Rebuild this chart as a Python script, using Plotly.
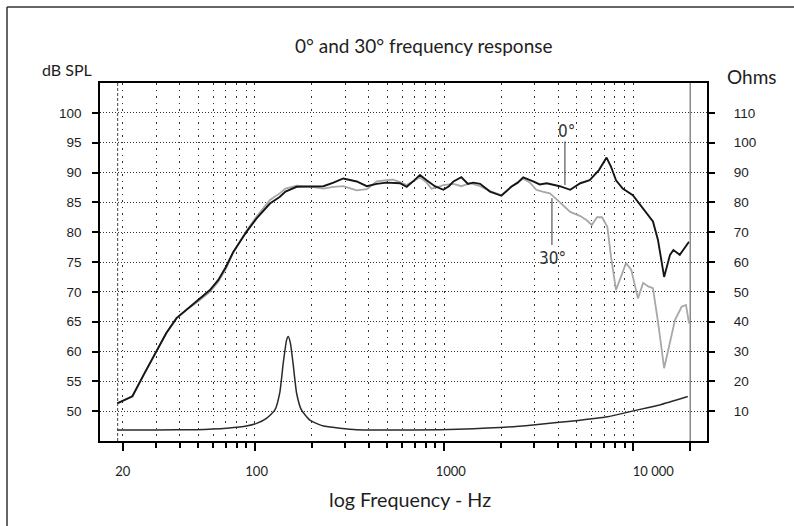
import math
import plotly.graph_objects as go

# ---------------- data ----------------
freq_0deg = [18.7, 22.5, 26, 30.2, 34, 38.5, 43.5, 49.2, 57.8, 64, 70.3, 76.8, 84, 90.4,
             102, 112, 120, 135, 145, 166, 200, 230, 260, 293, 345, 390, 440, 496, 584,
             634, 690, 745, 808, 893, 990, 1060, 1120, 1233, 1337, 1425, 1549, 1747, 2007,
             2262, 2450, 2619, 2955, 3200, 3484, 4085, 4640, 5245, 5880, 6581, 7220, 7617,
             8102, 8788, 9940, 11270, 12700, 13500, 14550, 15630, 16280, 17600, 19700]
spl_0deg = [51.3, 52.5, 56.3, 60.2, 63.1, 65.6, 67.0, 68.3, 70.3, 72.0, 74.2, 76.7, 78.5, 80.1,
            82.3, 83.8, 84.8, 85.9, 86.8, 87.6, 87.7, 87.7, 88.3, 89.0, 88.5, 87.7, 88.1, 88.3, 88.2,
            87.6, 88.6, 89.6, 88.7, 87.7, 87.1, 87.7, 88.5, 89.2, 88.1, 88.3, 88.1, 86.8, 86.1,
            87.6, 88.3, 89.2, 88.5, 88.0, 88.2, 87.7, 87.1, 88.2, 88.7, 90.4, 92.5, 91.0,
            88.7, 87.3, 86.2, 84.0, 81.8, 78.7, 72.5, 76.2, 77.0, 76.2, 78.4]

freq_30deg = [18.7, 22.5, 26, 30.2, 34, 38.5, 43.5, 49.2, 57.8, 64, 70.3, 76.8, 84, 90.4,
              102, 112, 120, 135, 145, 166, 200, 230, 260, 293, 345, 390, 440, 496, 537, 584,
              634, 690, 745, 808, 857, 930, 990, 1120, 1233, 1370, 1549, 1747, 2007, 2262,
              2619, 2845, 3069, 3309, 3620, 3935, 4245, 4640, 5245, 5670, 6030, 6430, 6830,
              7290, 7620, 8102, 8600, 9140, 9750, 10580, 11270, 11990, 12700, 13500, 14550,
              15630, 16620, 18000, 18990, 19700]
spl_30deg = [51.3, 52.5, 56.3, 60.2, 63.1, 65.6, 67.0, 68.2, 70.0, 71.7, 73.9, 76.6, 78.6, 80.3,
             82.6, 84.2, 85.4, 86.5, 87.3, 87.8, 87.6, 87.3, 87.6, 87.7, 87.0, 87.2, 88.5, 88.7, 88.8, 88.4,
             87.9, 88.6, 89.2, 88.3, 87.3, 87.6, 87.9, 88.1, 87.7, 88.2, 87.7, 86.9, 86.2, 87.6,
             89.0, 88.3, 87.1, 86.8, 86.5, 85.5, 84.5, 83.4, 82.7, 82.0, 81.2, 82.5, 82.5,
             80.9, 75.9, 70.3, 72.5, 74.8, 73.7, 68.9, 71.5, 70.9, 70.6, 65.0, 57.2,
             61.4, 65.3, 67.5, 67.8, 64.7]

freq_impedance = [18.7, 30, 49, 60, 71, 90, 102, 115, 127.5, 135.5, 141, 147, 150, 154, 159,
                  166, 176, 195, 230, 281, 345, 500, 950, 1970, 2950, 4970, 7290, 10000, 13800, 19400]
ohm_impedance = [3.7, 3.7, 3.8, 4.0, 4.3, 5.0, 5.9, 7.6, 10.4, 16.5, 26.0, 33.9, 35.0, 32.7, 26.0,
                 16.0, 10.4, 7.0, 5.0, 4.3, 3.8, 3.7, 3.8, 4.5, 5.4, 6.8, 8.1, 10.1, 12.1, 14.9]

x_major_ticks = [20, 100, 1000, 10000, 20000]
x_major_labels = ["20", "\u00a0100", "\u00a0\u00a0\u00a0\u00a01000",
                  "\u00a0" * 12 + "10 000", ""]
x_minor_ticks = [30, 40, 50, 60, 70, 80, 90,
                 200, 300, 400, 500, 600, 700, 800, 900,
                 2000, 3000, 4000, 5000, 6000, 7000, 8000, 9000]
y_left_ticks = [50, 55, 60, 65, 70, 75, 80, 85, 90, 95, 100]
y_right_ticks = [10, 20, 30, 40, 50, 60, 70, 80, 90, 100, 110]

measure_start_hz = 18.8
measure_end_hz = 20000

# ---------------- geometry helpers ----------------
W, H = 794, 526
L, R, T, B = 100, 707, 83, 441


def px(x):
    return (x - L) / (R - L)


def py(y):
    return (B - y) / (B - T)


GEO = "Lato, 'Noto Sans', sans-serif"
ARIAL = "'Liberation Sans', Arial, sans-serif"
NARROW = "'Liberation Sans Narrow', 'DejaVu Sans Condensed', sans-serif"
INK = "#1e1e1e"

fig = go.Figure()

fig.add_trace(go.Scatter(x=freq_30deg, y=spl_30deg, mode="lines", name="30°",
                         line=dict(color="#a8a8a8", width=1.8), showlegend=False))
fig.add_trace(go.Scatter(x=freq_impedance, y=ohm_impedance, mode="lines", name="Impedance",
                         yaxis="y2", line=dict(color="#2a2a2a", width=1.5, shape="spline",
                                               smoothing=0.5), showlegend=False))
fig.add_trace(go.Scatter(x=freq_0deg, y=spl_0deg, mode="lines", name="0°",
                         line=dict(color="#151515", width=1.9), showlegend=False))

# vertical boundary lines
fig.add_shape(type="line", xref="x", yref="paper", x0=measure_start_hz, x1=measure_start_hz,
              y0=0, y1=1, line=dict(color="#444", width=1, dash="3px,2px"))
fig.add_shape(type="line", xref="x", yref="paper", x0=measure_end_hz, x1=measure_end_hz,
              y0=0, y1=1, line=dict(color="#8a8a8a", width=1.5))

# label leader lines
fig.add_shape(type="line", xref="x", yref="y", x0=4350, x1=4350, y0=95.2, y1=87.9,
              line=dict(color="#333", width=1))
fig.add_shape(type="line", xref="x", yref="y", x0=3714, x1=3714, y0=85.7, y1=77.85,
              line=dict(color="#333", width=1))

# outer frame (left and top edges only visible)
fig.add_shape(type="line", xref="paper", yref="paper", x0=px(7), x1=px(7), y0=py(7), y1=py(H + 5),
              line=dict(color="#333", width=1.5))
fig.add_shape(type="line", xref="paper", yref="paper", x0=px(7), x1=px(W + 5), y0=py(7), y1=py(7),
              line=dict(color="#333", width=1.5))

annotations = [
    dict(text="0° and 30° frequency response", xref="paper", yref="paper", x=px(424), y=py(46),
         xanchor="center", yanchor="middle", showarrow=False, font=dict(family=GEO, size=19, color=INK)),
    dict(text="dB SPL", xref="paper", yref="paper", x=px(67), y=py(69),
         xanchor="center", yanchor="middle", showarrow=False, font=dict(family=GEO, size=16, color=INK)),
    dict(text="Ohms", xref="paper", yref="paper", x=px(752), y=py(76),
         xanchor="center", yanchor="middle", showarrow=False, font=dict(family=GEO, size=19, color=INK)),
    dict(text="log Frequency - Hz", xref="paper", yref="paper", x=px(410), y=py(500),
         xanchor="center", yanchor="middle", showarrow=False, font=dict(family=GEO, size=19.7, color=INK)),
    dict(text="0°", xref="x", yref="y", x=math.log10(4450), y=96.95,
         xanchor="center", yanchor="middle", showarrow=False, font=dict(family=NARROW, size=17, color="#333")),
    dict(text="30°", xref="x", yref="y", x=math.log10(3740), y=75.7,
         xanchor="center", yanchor="middle", showarrow=False, font=dict(family=NARROW, size=17, color="#333")),
]

fig.update_layout(
    width=W, height=H,
    margin=dict(l=L, r=W - R, t=T, b=H - B, pad=0),
    paper_bgcolor="white", plot_bgcolor="white",
    showlegend=False,
    annotations=annotations,
    xaxis=dict(
        type="log", range=[1.1808, 4.3895],
        tickmode="array", tickvals=x_major_ticks, ticktext=x_major_labels,
        ticks="outside", ticklen=8, tickwidth=1.5, tickcolor="black",
        tickfont=dict(family=GEO, size=13, color=INK), ticklabelstandoff=10,
        showgrid=True, gridcolor="#333", gridwidth=1, griddash="1.5px,5px",
        minor=dict(tickmode="array", tickvals=x_minor_ticks, ticks="outside", ticklen=5,
                   tickwidth=1.5, tickcolor="black", showgrid=True, gridcolor="#333",
                   gridwidth=1, griddash="1.5px,5px"),
        showline=True, linecolor="black", linewidth=1.5, mirror=True,
        zeroline=False,
    ),
    yaxis=dict(
        range=[45, 105], tickmode="array", tickvals=y_left_ticks,
        ticks="outside", ticklen=6, tickwidth=1.5, tickcolor="black",
        tickfont=dict(family=ARIAL, size=13.5, color=INK), ticklabelstandoff=8,
        showgrid=True, gridcolor="#333", gridwidth=1, griddash="1px,2px",
        showline=True, linecolor="black", linewidth=1.5, mirror=True, zeroline=False,
    ),
    yaxis2=dict(
        range=[0, 120], overlaying="y", side="right", tickmode="array", tickvals=y_right_ticks,
        ticks="outside", ticklen=7, tickwidth=1.5, tickcolor="black",
        tickfont=dict(family=ARIAL, size=13.5, color=INK), ticklabelstandoff=16,
        showgrid=False, showline=False, zeroline=False,
    ),
)

fig.write_html("out.html",
               config={"displayModeBar": False},
               post_script="document.body.style.margin='0';document.body.style.padding='0';")
